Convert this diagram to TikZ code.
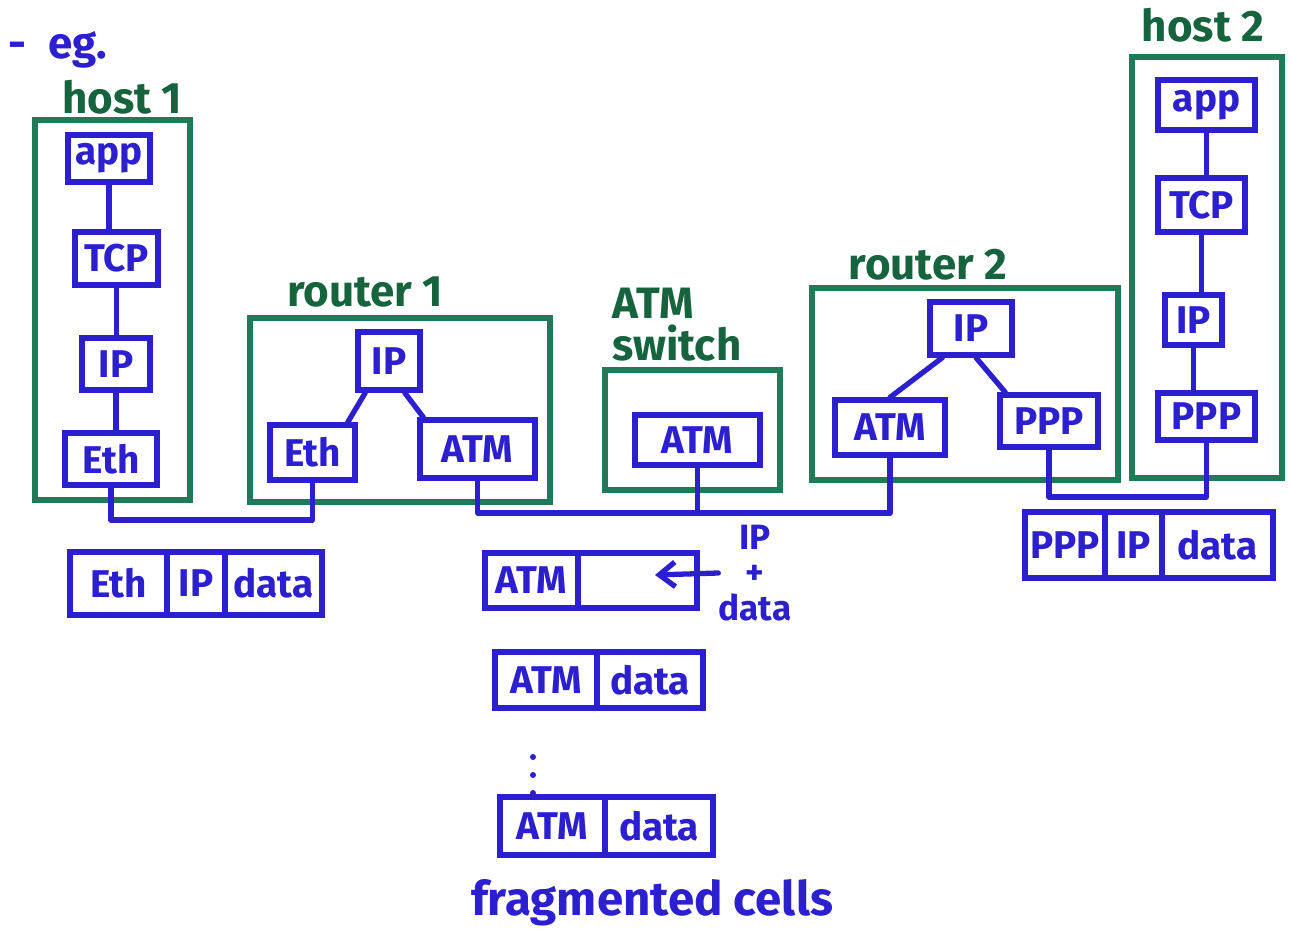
\documentclass[tikz,border=0pt]{standalone}
\usepackage{fontspec}
\newfontfamily\hand{Fira Sans}
\usetikzlibrary{fit,calc,arrows.meta}
\definecolor{penblue}{RGB}{43,31,207}
\definecolor{pengreen}{RGB}{32,122,88}
\definecolor{labgreen}{RGB}{22,100,62}
\begin{document}
\begin{tikzpicture}[x=0.02cm,y=-0.02cm,
  tx/.style={text=penblue, inner sep=0pt, font=\hand\bfseries\fontsize{22}{24}\selectfont},
  layer/.style={draw=penblue, line width=3pt, inner sep=0pt, label={[tx]center:#1}},
  field/.style={layer=#1},
  cont/.style={draw=pengreen, line width=3pt, inner sep=0pt},
  glabel/.style={text=labgreen, font=\hand\bfseries\fontsize{25}{28}\selectfont, inner sep=0pt},
  blabel/.style={text=penblue, font=\hand\bfseries\fontsize{25}{28}\selectfont, inner sep=0pt},
  wire/.style={draw=penblue, line width=3pt, line cap=round, line join=round}]
\fill[white] (0,0) rectangle (1292,936);
\path[use as bounding box] (0,0) rectangle (1292,936);

% labels
\node[blabel, anchor=west] (eg) at (8,50) {-\hspace{0.5em}eg.};
\node[glabel] (lh1) at (122,97) {host 1};
\node[glabel] (lr1) at (365,292) {router 1};
\node[glabel, align=left] (lsw) at (677,325) {ATM\\[-4pt]switch};
\node[glabel] (lr2) at (928,265) {router 2};
\node[glabel] (lh2) at (1203,25) {host 2};
\node[blabel, font=\hand\bfseries\fontsize{27}{30}\selectfont] (frag) at (652,903) {fragmented cells};

% containers
\node[cont, fit={(35,120) (190,500)}] (host1) {};
\node[cont, fit={(250,318) (550,502)}] (router1) {};
\node[cont, fit={(605,370) (780,490)}] (switch) {};
\node[cont, fit={(812,288) (1118,480)}] (router2) {};
\node[cont, fit={(1132,57) (1282,478)}] (host2) {};

% host 1 stack
\node[layer=app, fit={(68,135) (150,182)}] (app1) {};
\node[layer=TCP, fit={(75,232) (158,285)}] (tcp1) {};
\node[layer=IP, fit={(82,338) (150,390)}] (ip1) {};
\node[layer=Eth, fit={(65,433) (157,485)}] (eth1) {};

% router 1
\node[layer=IP, fit={(358,332) (420,390)}] (r1ip) {};
\node[layer=Eth, fit={(270,425) (355,480)}] (r1eth) {};
\node[layer=ATM, fit={(420,420) (535,478)}] (r1atm) {};

% ATM switch
\node[layer=ATM, fit={(635,415) (760,465)}] (swatm) {};

% router 2
\node[layer=IP, fit={(930,302) (1012,355)}] (r2ip) {};
\node[layer=ATM, fit={(835,400) (945,455)}] (r2atm) {};
\node[layer=PPP, fit={(1000,395) (1098,447)}] (r2ppp) {};

% host 2 stack
\node[layer=app, fit={(1158,80) (1255,130)}] (app2) {};
\node[layer=TCP, fit={(1158,178) (1245,232)}] (tcp2) {};
\node[layer=IP, fit={(1165,295) (1222,345)}] (ip2) {};
\node[layer=PPP, fit={(1158,393) (1255,440)}] (ppp2) {};

% stack connectors
\draw[wire] (app1.south) -- (app1.south |- tcp1.north);
\draw[wire] (tcp1.south) -- (tcp1.south |- ip1.north);
\draw[wire] (ip1.south) -- (ip1.south |- eth1.north);
\draw[wire] (app2.south) -- (app2.south |- tcp2.north);
\draw[wire] (tcp2.south) -- (tcp2.south |- ip2.north);
\draw[wire] (ip2.south) -- (ip2.south |- ppp2.north);

\draw[wire] ($(r1ip.south west)+(10,0)$) -- ($(r1eth.north east)+(-10,0)$);
\draw[wire] ($(r1ip.south east)+(-18,0)$) -- ($(r1atm.north west)+(6,0)$);
\draw[wire] ($(r2ip.south west)+(15,0)$) -- ($(r2atm.north)+(0,0)$);
\draw[wire] ($(r2ip.south)+(5,0)$) -- ($(r2ppp.north west)+(8,0)$);

% links
\coordinate (c1) at (220,520);
\coordinate (c2) at (700,513);
\coordinate (c3) at (1120,497);
\draw[wire] (eth1.south) |- (c1) -| (r1eth.south);
\draw[wire] (r1atm.south) |- (c2) -| (r2atm.south);
\draw[wire] (swatm.south) -- (swatm.south |- c2);
\draw[wire] (r2ppp.south) |- (c3) -| (ppp2.south);

% packets
\node[field=Eth, fit={(70,552) (167,615)}] (pe1) {};
\node[field=IP, fit={(167,552) (225,615)}] (pe2) {};
\node[field=data, fit={(225,552) (322,615)}] (pe3) {};

\node[field=ATM, fit={(485,553) (578,608)}] (pa1) {};
\node[field=, fit={(578,553) (697,608)}] (pa2) {};

\node[field=ATM, fit={(495,652) (597,708)}] (pb1) {};
\node[field=data, fit={(597,652) (703,708)}] (pb2) {};

\node[field=ATM, fit={(500,797) (605,855)}] (pc1) {};
\node[field=data, fit={(605,797) (713,855)}] (pc2) {};

\node[field=PPP, fit={(1025,512) (1105,578)}] (pp1) {};
\node[field=IP, fit={(1105,512) (1162,578)}] (pp2) {};
\node[field=data, fit={(1162,512) (1273,578)}] (pp3) {};

% IP + data annotation
\node[blabel, align=center, font=\hand\bfseries\fontsize{20}{20}\selectfont] (ipdata) at (755,573) {IP\\+\\data};
\coordinate (atip) at (655,575);
\draw[wire, -{Straight Barb[length=9pt,width=14pt]}] (ipdata.west) -- (atip);

% dots
\fill[penblue] (533,757) circle (3);
\fill[penblue] (533,775) circle (3);
\fill[penblue] (533,793) circle (3);
\end{tikzpicture}
\end{document}
